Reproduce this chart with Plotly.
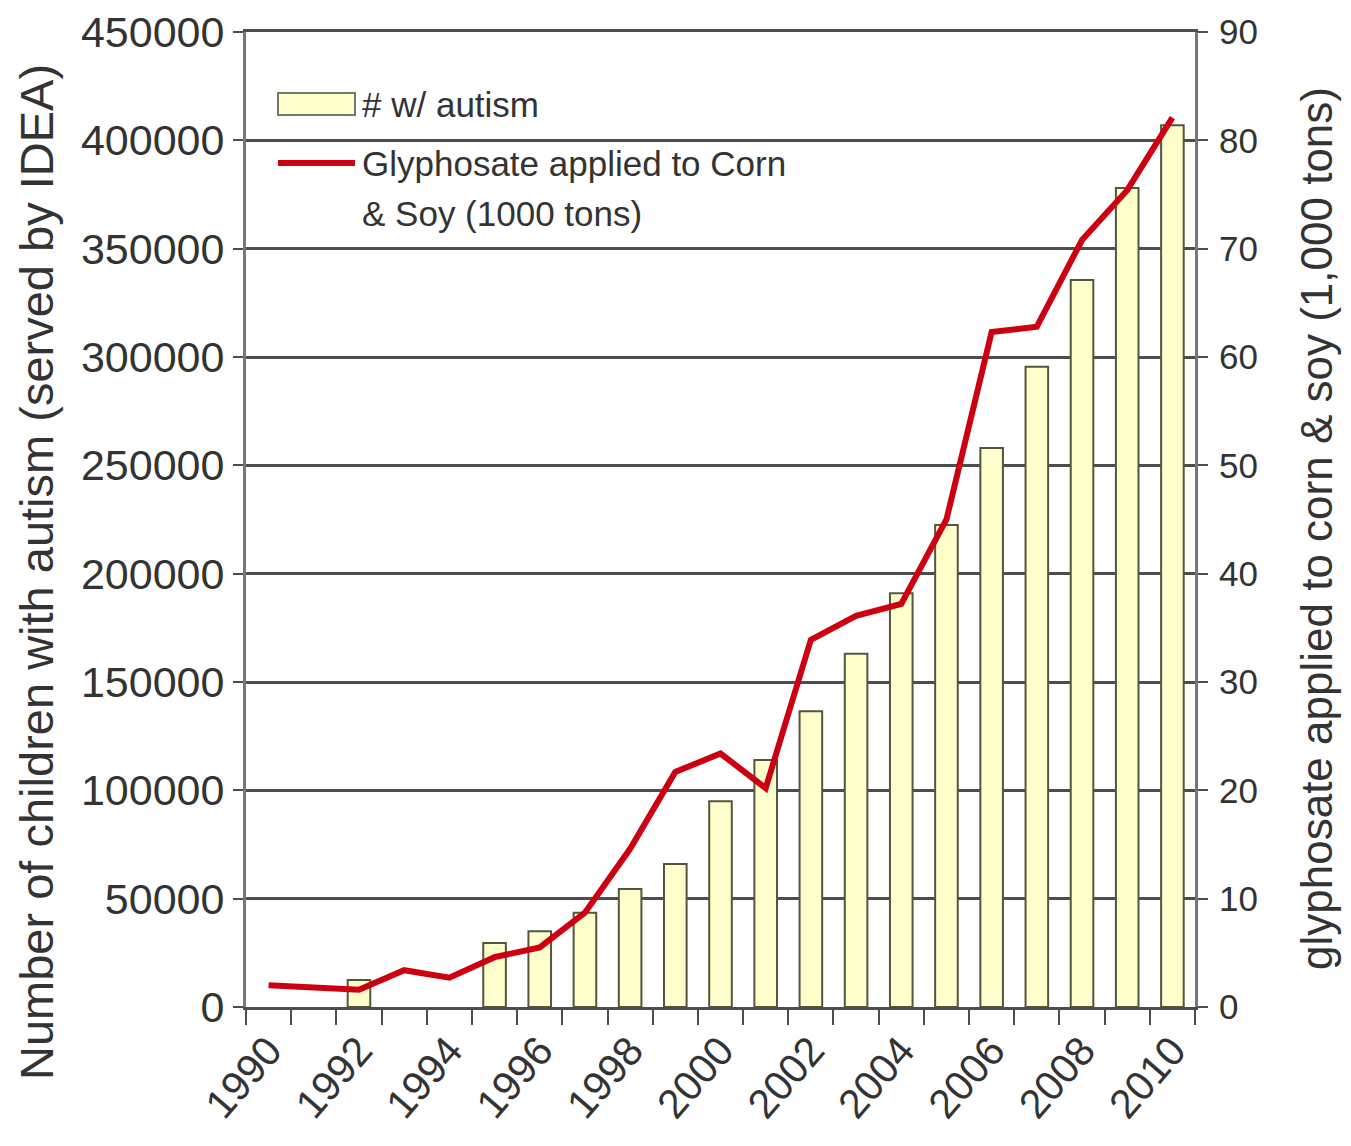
import plotly.graph_objects as go

years = list(range(1990, 2011))
autism = [None, None, 12500, None, None, 29500, 35000, 43500, 54500, 66000,
          95000, 114000, 136500, 163000, 191000, 222500, 258000, 295500, 335500, 378000, 407000]
glyphosate = [2.0, 1.85, 1.6, 3.4, 2.7, 4.6, 5.5, 8.7, 14.6, 21.7,
              23.4, 20.2, 33.9, 36.1, 37.2, 45.0, 62.3, 62.8, 70.8, 75.4, 82.1]
label_years = list(range(1990, 2011, 2))
left_ticks = list(range(0, 450001, 50000))
right_ticks = list(range(0, 91, 10))
bar_name = "# w/ autism"
line_name_lines = ["Glyphosate applied to Corn", "& Soy (1000 tons)"]

FONT = "Liberation Sans, Arial, sans-serif"
TXT = "#333333"
GRID = "#4d4d4d"
BAR_FILL = "#ffffcc"
BAR_EDGE = "#55553f"
RED = "#cc0011"

# page body has an 8px margin; work in screenshot pixels and convert
OFF = 8
FW, FH = 1351 - OFF, 1146 - OFF
L, R, T, B = 246 - OFF, 1195 - OFF, 32 - OFF, 1007 - OFF
W, H = R - L, B - T
px = lambda x: (x - OFF - L) / W
py = lambda y: (B - (y - OFF)) / H

fig = go.Figure()
fig.add_trace(go.Bar(
    x=years, y=autism, name=bar_name, width=0.5,
    marker=dict(color=BAR_FILL, line=dict(color=BAR_EDGE, width=2)),
    yaxis="y", showlegend=False))
fig.add_trace(go.Scatter(
    x=years, y=glyphosate, name=" ".join(line_name_lines),
    mode="lines", line=dict(color=RED, width=6), yaxis="y2", showlegend=False))

legend_shapes = [
    dict(type="rect", xref="paper", yref="paper", x0=px(278), x1=px(355), y0=py(115), y1=py(93),
         fillcolor=BAR_FILL, line=dict(color="#777766", width=2), layer="above"),
    dict(type="line", xref="paper", yref="paper", x0=px(278), x1=px(355), y0=py(163), y1=py(163),
         line=dict(color=RED, width=6), layer="above"),
]
LEG_FONT = dict(size=35, family=FONT, color=TXT)
legend_texts = [
    dict(text=bar_name, xref="paper", yref="paper", x=px(360), y=py(104), xanchor="left",
         yanchor="middle", showarrow=False, font=LEG_FONT),
    dict(text=line_name_lines[0], xref="paper", yref="paper", x=px(360), y=py(163), xanchor="left",
         yanchor="middle", showarrow=False, font=LEG_FONT),
    dict(text=line_name_lines[1], xref="paper", yref="paper", x=px(360), y=py(213), xanchor="left",
         yanchor="middle", showarrow=False, font=LEG_FONT),
]

fig.update_layout(
    width=FW, height=FH,
    margin=dict(l=L, r=FW - R, t=T, b=FH - B, autoexpand=False),
    paper_bgcolor="white", plot_bgcolor="white",
    font=dict(family=FONT, color=TXT),
    showlegend=False,
    xaxis=dict(range=[1989.5, 2010.5], tickmode="array", tickvals=label_years,
               ticktext=[str(y) for y in label_years], tickangle=-49,
               tickfont=dict(size=41, family=FONT, color=TXT),
               ticks="", showgrid=False, showline=True, mirror=True,
               linecolor=GRID, linewidth=3,
               minor=dict(tick0=1989.5, dtick=1, ticks="outside", ticklen=15,
                          tickwidth=2, tickcolor=GRID, showgrid=False),
               zeroline=False, automargin=False),
    yaxis=dict(range=[0, 450000], tickmode="array", tickvals=left_ticks,
               ticktext=[str(v) for v in left_ticks],
               tickfont=dict(size=43, family=FONT, color=TXT),
               ticks="outside", ticklen=10, tickwidth=2, tickcolor=GRID,
               showgrid=True, gridcolor=GRID, gridwidth=3,
               showline=True, linecolor="#777777", linewidth=3, zeroline=False,
               automargin=False),
    yaxis2=dict(range=[0, 90], overlaying="y", side="right", tickmode="array",
                tickvals=right_ticks, ticktext=[str(v) for v in right_ticks],
                tickfont=dict(size=35, family=FONT, color=TXT),
                ticks="outside", ticklen=10, tickwidth=2, tickcolor=GRID,
                ticklabelstandoff=4,
                showgrid=False, showline=True, linecolor="#777777", linewidth=3,
                zeroline=False, automargin=False),
    shapes=legend_shapes,
    annotations=legend_texts + [
        dict(text="Number of children with autism (served by IDEA)", textangle=-90,
             xref="paper", yref="paper", x=px(36), y=py(572), xanchor="center", yanchor="middle",
             showarrow=False, font=dict(size=47, family=FONT, color=TXT)),
        dict(text="glyphosate applied to corn & soy (1,000 tons)", textangle=-90,
             xref="paper", yref="paper", x=px(1316), y=py(529), xanchor="center", yanchor="middle",
             showarrow=False, font=dict(size=44, family=FONT, color=TXT)),
    ],
)

fig.write_html("out.html")
